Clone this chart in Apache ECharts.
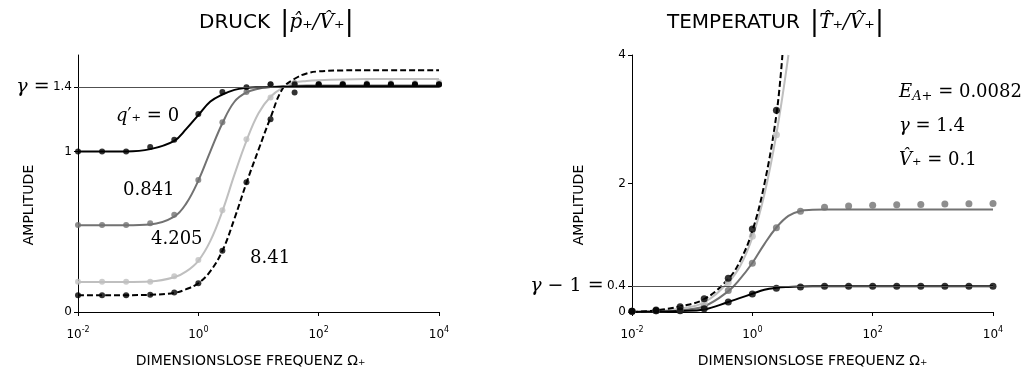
<!DOCTYPE html>
<html>
<head>
<meta charset="utf-8">
<script src="https://cdn.jsdelivr.net/npm/echarts@6/dist/echarts.min.js"></script>
<style>
html, body { margin: 0; padding: 0; background: #fff; }
#chart { width: 1024px; height: 373px; }
</style>
</head>
<body>
<div id="chart"></div>
<script>
// x values are log10 of the dimensionless frequency
const logOmegaDots = [-2, -1.6, -1.2, -0.8, -0.4, 0, 0.4, 0.8, 1.2, 1.6, 2, 2.4, 2.8, 3.2, 3.6, 4];
const logOmegaLine = [-2, -1.6, -1.2, -0.8, -0.4, -0.2, 0, 0.2, 0.4, 0.6, 0.8, 1.0, 1.2, 1.4, 1.6, 1.8, 2, 2.4, 2.8, 3.2, 3.6, 4];
const logOmegaLineT = [-2, -1.6, -1.2, -0.8, -0.4, -0.2, 0, 0.2, 0.4, 0.6, 0.8, 1.0, 1.2, 1.6, 2, 2.4, 2.8, 3.2, 3.6, 4];
const logOmegaLightT = [-2, -1.6, -1.2, -0.8, -0.4, -0.2, 0, 0.2, 0.4, 0.6];
const logOmegaDashT = [-2, -1.6, -1.2, -0.8, -0.4, -0.2, 0, 0.2, 0.4, 0.5];
const xTicks = [-2, 0, 2, 4];

// DRUCK |p/V| : lines
const p0Line    = [1.0, 1.0, 1.0, 1.014, 1.066, 1.14, 1.226, 1.31, 1.354, 1.383, 1.395, 1.399, 1.40, 1.402, 1.404, 1.405, 1.405, 1.405, 1.405, 1.405, 1.405, 1.405];
const p0841Line = [0.54, 0.54, 0.54, 0.545, 0.594, 0.676, 0.818, 1.0, 1.175, 1.309, 1.367, 1.39, 1.40, 1.405, 1.408, 1.41, 1.41, 1.41, 1.41, 1.41, 1.41, 1.41];
const p4205Line = [0.187, 0.187, 0.187, 0.19, 0.216, 0.253, 0.319, 0.443, 0.628, 0.855, 1.066, 1.237, 1.34, 1.395, 1.428, 1.438, 1.443, 1.448, 1.45, 1.45, 1.45, 1.45];
const p841Line  = [0.105, 0.105, 0.105, 0.107, 0.119, 0.142, 0.179, 0.254, 0.381, 0.581, 0.804, 1.01, 1.21, 1.39, 1.452, 1.485, 1.498, 1.504, 1.505, 1.505, 1.505, 1.505];
// DRUCK : points
const p0Dots    = [1.0, 1.0, 1.0, 1.027, 1.072, 1.233, 1.37, 1.40, 1.418, 1.416, 1.416, 1.416, 1.416, 1.416, 1.416, 1.416];
const p0841Dots = [0.542, 0.542, 0.542, 0.552, 0.606, 0.822, 1.181, 1.37, 1.416, 1.424, 1.42, 1.42, 1.42, 1.42, 1.42, 1.42];
const p4205Dots = [0.189, 0.189, 0.189, 0.189, 0.223, 0.323, 0.633, 1.076, 1.336, 1.424, 1.425, 1.425, 1.425, 1.425, 1.425, 1.43];
const p841Dots  = [0.105, 0.105, 0.105, 0.108, 0.121, 0.179, 0.381, 0.808, 1.20, 1.367, 1.416, 1.416, 1.416, 1.416, 1.416, 1.416];
const gammaP = 1.4;
const yTicksP = [0, 1, 1.4];

// TEMPERATUR |T/V| : lines
const tBlackLine = [0.0, 0.005, 0.015, 0.04, 0.155, 0.22, 0.283, 0.345, 0.376, 0.39, 0.397, 0.4, 0.4, 0.4, 0.4, 0.4, 0.4, 0.4, 0.4, 0.4];
const tGrayLine  = [0.0, 0.01, 0.03, 0.09, 0.325, 0.52, 0.763, 1.057, 1.315, 1.496, 1.573, 1.59, 1.595, 1.595, 1.595, 1.595, 1.595, 1.595, 1.595, 1.595];
const tLightLine = [0.0, 0.015, 0.05, 0.15, 0.46, 0.72, 1.16, 1.83, 2.77, 4.0];
const tDashLine  = [0.0, 0.025, 0.087, 0.2, 0.515, 0.8, 1.26, 1.99, 3.07, 4.0];
// TEMPERATUR : points
const tBlackDots = [0.01, 0.02, 0.02, 0.05, 0.155, 0.28, 0.37, 0.39, 0.40, 0.40, 0.40, 0.40, 0.40, 0.40, 0.40, 0.40];
const tGrayDots  = [0.01, 0.02, 0.03, 0.09, 0.335, 0.76, 1.31, 1.57, 1.63, 1.65, 1.66, 1.67, 1.675, 1.68, 1.685, 1.69];
const tLightDots = [0.01, 0.02, 0.04, 0.14, 0.46, 1.18, 2.76];
const tDashDots  = [0.01, 0.03, 0.08, 0.205, 0.525, 1.29, 3.14];
const gammaMinus1 = 0.4;
const yTicksT = [0, 0.4, 2, 4];

const BLACK = '#000', GRAY = '#727272', LIGHT = '#bfbfbf';
const SANS = 'DejaVu Sans', SERIF = 'DejaVu Serif';

const pairs = (xs, ys) => xs.map((x, i) => [x, ys[i]]);

function curve(xs, ys, color, dashed, idx) {
  return {
    type: 'line', xAxisIndex: idx, yAxisIndex: idx,
    data: pairs(xs, ys), smooth: 0.4, showSymbol: false, clip: true,
    lineStyle: { color: color, width: 2, type: dashed ? [6, 3] : 'solid' },
    z: 2
  };
}
function dots(xs, ys, color, idx, size) {
  return {
    type: 'scatter', xAxisIndex: idx, yAxisIndex: idx,
    data: pairs(xs, ys), symbol: 'circle', symbolSize: size,
    itemStyle: { color: color }, z: 3
  };
}
function refLine(val, idx) {
  return {
    type: 'line', xAxisIndex: idx, yAxisIndex: idx, data: [],
    markLine: {
      silent: true, symbol: 'none', label: { show: false },
      lineStyle: { color: '#505050', width: 1, type: 'solid' },
      data: [{ yAxis: val }]
    },
    z: 1
  };
}

const supRich = {
  b: { fontFamily: SANS, fontSize: 12, color: '#000' },
  s: { fontFamily: SANS, fontSize: 8, color: '#000', padding: [0, 0, 9, 0] }
};
function xAxisFor(idx, namePad) {
  return {
    type: 'value', gridIndex: idx, min: -2, max: 4, interval: 2,
    axisLine: { show: true, onZero: false, lineStyle: { color: '#000', width: 1 } },
    axisTick: { show: true, length: 4, lineStyle: { color: '#000' }, customValues: xTicks },
    splitLine: { show: false },
    axisLabel: {
      customValues: xTicks, margin: 14,
      formatter: v => '{b|10}{s|' + v + '}', rich: supRich
    },
    name: 'DIMENSIONSLOSE FREQUENZ Ω₊', nameLocation: 'middle', nameGap: 42,
    nameTextStyle: { fontFamily: SANS, fontSize: 14, color: '#000', padding: namePad }
  };
}
const yRich = {
  n: { fontFamily: SANS, fontSize: 12, color: '#000' },
  gi: { fontFamily: SERIF, fontStyle: 'italic', fontSize: 19, color: '#000' },
  g: { fontFamily: SERIF, fontSize: 19, color: '#000' }
};
function yAxisFor(idx, max, ticks, special, specialText) {
  return {
    type: 'value', gridIndex: idx, min: 0, max: max,
    axisLine: { show: true, onZero: false, lineStyle: { color: '#000', width: 1 } },
    axisTick: { show: true, length: 4, lineStyle: { color: '#000' }, customValues: ticks },
    splitLine: { show: false },
    axisLabel: {
      customValues: ticks, margin: 6, rich: yRich,
      formatter: v => Math.abs(v - special) < 1e-9 ? specialText : '{n|' + v + '}'
    }
  };
}

const mathRich = {
  t: { fontFamily: SANS, fontSize: 20, fontWeight: 'normal', color: '#000' },
  bar: { fontFamily: SERIF, fontSize: 28, fontWeight: 'normal', color: '#000' },
  m: { fontFamily: SERIF, fontStyle: 'italic', fontWeight: 'normal', fontSize: 20, color: '#000' }
};
const annRich = {
  i: { fontFamily: SERIF, fontStyle: 'italic', fontSize: 18, fill: '#000' },
  n: { fontFamily: SERIF, fontSize: 18, fill: '#000' },
  sub: { fontFamily: SERIF, fontStyle: 'italic', fontSize: 13, fill: '#000', padding: [10, 0, 0, 0] }
};
function note(x, y, text) {
  return {
    type: 'text', x: x, y: y,
    style: { text: text, rich: annRich, fill: '#000', font: '18px ' + SERIF,
      align: 'left', verticalAlign: 'middle', textAlign: 'left', textVerticalAlign: 'middle' }
  };
}
function vName(x, y) {
  return {
    type: 'text', x: x, y: y, rotation: Math.PI / 2,
    style: { text: 'AMPLITUDE', fill: '#000', font: '14px ' + SANS,
      align: 'center', verticalAlign: 'middle', textAlign: 'center', textVerticalAlign: 'middle' }
  };
}

const chart = echarts.init(document.getElementById('chart'));
chart.setOption({
  animation: false,
  backgroundColor: '#fff',
  title: [
    { left: 194, top: 4, text: '{t|DRUCK}  {bar||}{m|p̂₊/V̂₊}{bar||}', textStyle: { fontWeight: 'normal', rich: mathRich } },
    { left: 662, top: 4, text: '{t|TEMPERATUR}  {bar||}{m|T̂₊/V̂₊}{bar||}', textStyle: { fontWeight: 'normal', rich: mathRich } }
  ],
  grid: [
    { left: 78, top: 55, width: 361, height: 258 },
    { left: 632, top: 55, width: 361, height: 258 }
  ],
  xAxis: [xAxisFor(0, [0, 16, 0, 0]), xAxisFor(1, 0)],
  yAxis: [
    yAxisFor(0, 1.6, yTicksP, gammaP, '{gi|γ}{g| =} {n|1.4}'),
    yAxisFor(1, 4, yTicksT, gammaMinus1, '{gi|γ}{g| − 1 =} {n|0.4}')
  ],
  series: [
    refLine(gammaP, 0),
    curve(logOmegaLine, p0841Line, GRAY, false, 0),
    curve(logOmegaLine, p4205Line, LIGHT, false, 0),
    curve(logOmegaLine, p0Line, BLACK, false, 0),
    curve(logOmegaLine, p841Line, BLACK, true, 0),
    dots(logOmegaDots, p4205Dots, LIGHT, 0, 6),
    dots(logOmegaDots, p0841Dots, GRAY, 0, 6),
    dots(logOmegaDots, p841Dots, BLACK, 0, 6),
    dots(logOmegaDots, p0Dots, BLACK, 0, 6),

    refLine(gammaMinus1, 1),
    curve(logOmegaLineT, tGrayLine, GRAY, false, 1),
    curve(logOmegaLightT, tLightLine, LIGHT, false, 1),
    curve(logOmegaLineT, tBlackLine, BLACK, false, 1),
    curve(logOmegaDashT, tDashLine, BLACK, true, 1),
    dots(logOmegaDots, tGrayDots, GRAY, 1, 7),
    dots(logOmegaDots.slice(0, 7), tLightDots, LIGHT, 1, 7),
    dots(logOmegaDots.slice(0, 7), tDashDots, BLACK, 1, 7),
    dots(logOmegaDots, tBlackDots, BLACK, 1, 7)
  ],
  graphic: [
    vName(29, 205),
    vName(579, 205),
    note(116, 116, '{i|q}{n|′₊ = 0}'),
    note(123, 190, '{n|0.841}'),
    note(151, 239, '{n|4.205}'),
    note(250, 258, '{n|8.41}'),
    note(899, 92, '{i|E}{sub|A+}{n| = 0.0082}'),
    note(899, 126, '{i|γ}{n| = 1.4}'),
    note(899, 160, '{i|V̂}{n|₊ = 0.1}')
  ]
});
</script>
</body>
</html>
